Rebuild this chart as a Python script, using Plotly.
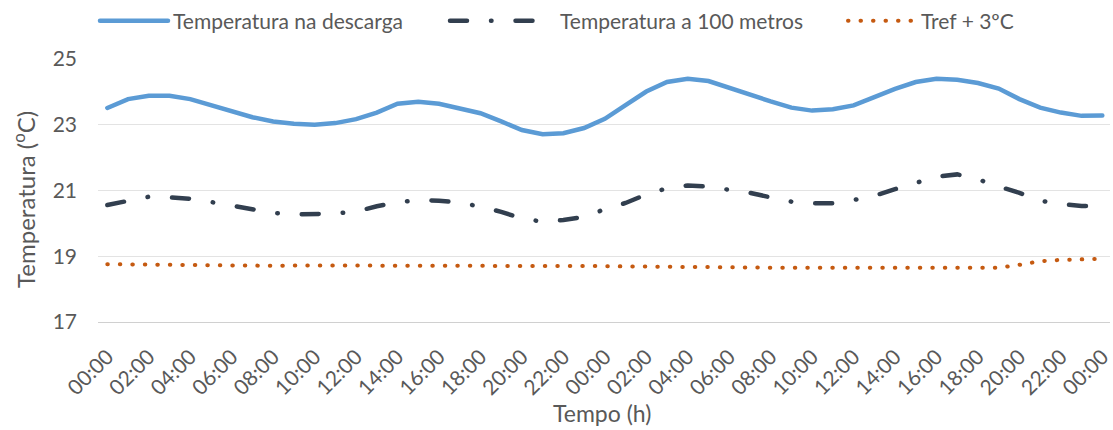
import plotly.graph_objects as go

# Hourly readings over two days (0 h .. 48 h)
horas = list(range(49))
rotulos = ["00:00", "02:00", "04:00", "06:00", "08:00", "10:00", "12:00", "14:00",
           "16:00", "18:00", "20:00", "22:00", "00:00", "02:00", "04:00", "06:00",
           "08:00", "10:00", "12:00", "14:00", "16:00", "18:00", "20:00", "22:00", "00:00"]
posicoes_rotulos = list(range(0, 49, 2))

temp_descarga = [23.51, 23.78, 23.88, 23.88, 23.78, 23.60, 23.41, 23.23, 23.10, 23.03,
                 23.00, 23.05, 23.17, 23.37, 23.64, 23.70, 23.64, 23.50, 23.35, 23.10,
                 22.84, 22.71, 22.74, 22.90, 23.18, 23.60, 24.01, 24.30, 24.40, 24.33,
                 24.12, 23.90, 23.71, 23.52, 23.43, 23.47, 23.59, 23.84, 24.09, 24.30,
                 24.40, 24.37, 24.27, 24.10, 23.78, 23.52, 23.37, 23.27, 23.28]

temp_100m = [20.56, 20.69, 20.81, 20.79, 20.75, 20.65, 20.55, 20.43, 20.32, 20.27,
             20.27, 20.30, 20.36, 20.52, 20.64, 20.71, 20.69, 20.63, 20.51, 20.35,
             20.15, 20.05, 20.10, 20.20, 20.43, 20.62, 20.88, 21.07, 21.15, 21.12,
             21.02, 20.93, 20.79, 20.66, 20.61, 20.61, 20.71, 20.84, 21.04, 21.22,
             21.42, 21.49, 21.34, 21.12, 20.93, 20.69, 20.59, 20.53, 20.53]

tref_mais3 = [18.76, 18.75, 18.74, 18.73, 18.72, 18.71, 18.71, 18.71, 18.71, 18.72,
              18.72, 18.73, 18.73, 18.73, 18.73, 18.73, 18.73, 18.72, 18.72, 18.71,
              18.70, 18.70, 18.70, 18.70, 18.70, 18.69, 18.69, 18.68, 18.68, 18.67,
              18.66, 18.66, 18.65, 18.65, 18.65, 18.65, 18.65, 18.66, 18.66, 18.66,
              18.66, 18.65, 18.65, 18.65, 18.74, 18.85, 18.89, 18.91, 18.92]

FONTE = "Lato"
CINZA = "#595959"

fig = go.Figure()
fig.add_trace(go.Scatter(
    x=horas, y=temp_descarga, mode="lines", name="Temperatura na descarga",
    line=dict(color="#5B9BD5", width=4.5), legend="legend", showlegend=True))
fig.add_trace(go.Scatter(
    x=horas, y=temp_100m, mode="lines", name="Temperatura a 100 metros",
    line=dict(color="#323F4F", width=4.5, dash="17px,24px,0.5px,24px"), legend="legend2"))
fig.add_trace(go.Scatter(
    x=horas, y=tref_mais3, mode="lines", name="Tref + 3ºC",
    line=dict(color="#C55A11", width=4, dash="0.5px,12px"), legend="legend3"))

W, H = 1113, 430


def legenda(x_px, largura):
    return dict(orientation="h", xref="container", yref="container",
                x=x_px / W, y=1 - 21 / H, xanchor="left", yanchor="middle",
                font=dict(family=FONTE, size=21, color=CINZA), bgcolor="rgba(0,0,0,0)",
                itemwidth=largura, visible=True)


fig.update_layout(
    width=W, height=H,
    showlegend=True,
    margin=dict(l=98, r=0, t=59, b=108),
    paper_bgcolor="white", plot_bgcolor="white",
    font=dict(family=FONTE, size=21, color=CINZA),
    legend=legenda(95, 68),
    legend2=legenda(445, 105),
    legend3=legenda(843, 68),
    xaxis=dict(
        range=[-0.45, 48.37], tickmode="array", tickvals=posicoes_rotulos, ticktext=rotulos,
        tickangle=-45, showgrid=False, zeroline=False, showline=True,
        linecolor="#D0D0D0", linewidth=1.3, ticks="", ticklabeloverflow="allow",
        tickfont=dict(family=FONTE, size=21, color=CINZA), ticklabelstandoff=13),
    yaxis=dict(
        range=[17, 25], tickvals=[17, 19, 21, 23, 25], showgrid=True,
        gridcolor="#E3E3E3", gridwidth=1.3, zeroline=False, showline=False, ticks="",
        tickfont=dict(family=FONTE, size=21, color=CINZA), ticklabelstandoff=20),
    annotations=[
        dict(text="Temperatura (<sup>o</sup>C)", textangle=-90, xref="paper", yref="paper",
             x=(23 - 98) / 1015, y=(322 - 200) / 262.4, xanchor="center", yanchor="middle",
             showarrow=False, font=dict(family=FONTE, size=24, color=CINZA)),
        dict(text="Tempo (h)", xref="paper", yref="paper",
             x=(603 - 98) / 1015, y=-(413 - 322) / 262.4, xanchor="center", yanchor="middle",
             showarrow=False, font=dict(family=FONTE, size=23, color=CINZA)),
    ],
)

# Round line caps give round dots and dashes
post = """
var gd = document.getElementById('{plot_id}');
function capsRedondos(){
  gd.querySelectorAll('path.js-line').forEach(function(p){ p.style.strokeLinecap = 'round'; });
}
capsRedondos();
gd.on('plotly_afterplot', capsRedondos);
"""

fig.write_html("out.html", post_script=post)
